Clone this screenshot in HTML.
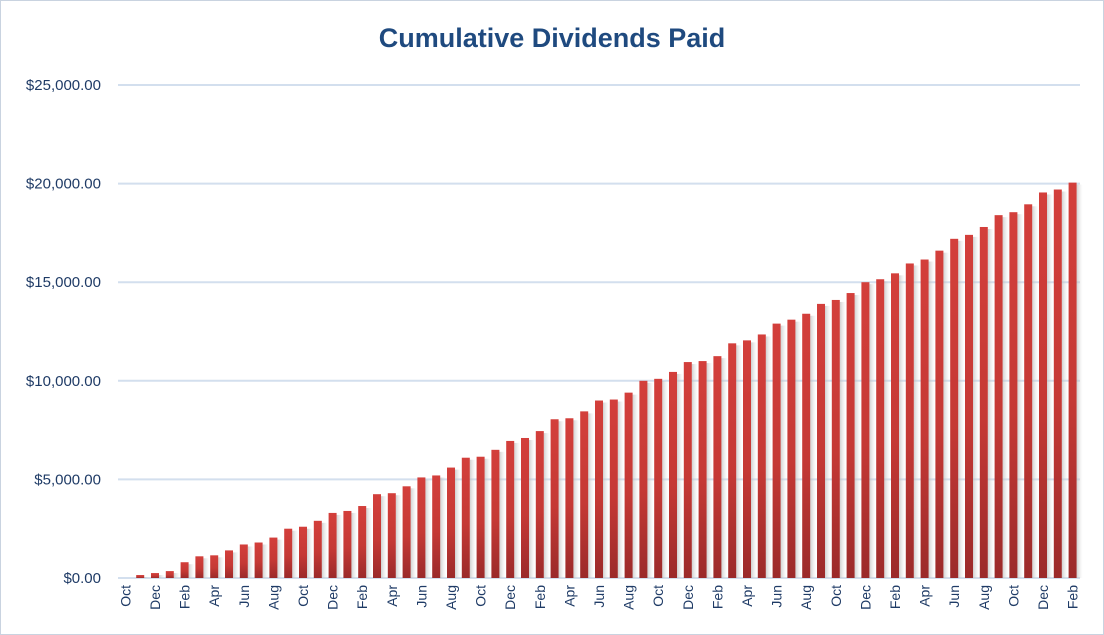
<!DOCTYPE html>
<html><head><meta charset="utf-8"><style>
body{margin:0;background:#fff;}
svg{display:block;font-family:"Liberation Sans",Calibri,sans-serif;}
</style></head><body>
<svg id="chart" width="1104" height="635" viewBox="0 0 1104 635" xmlns="http://www.w3.org/2000/svg">
<defs>
<linearGradient id="barGrad" x1="0" y1="0" x2="0" y2="1">
<stop offset="0" stop-color="#d33f3b"/><stop offset="0.55" stop-color="#c53935"/><stop offset="1" stop-color="#9b2a2a"/>
</linearGradient>
<linearGradient id="shadowGrad" x1="0" y1="0" x2="1" y2="0">
<stop offset="0" stop-color="#bbb" stop-opacity="0.7"/><stop offset="1" stop-color="#ddd" stop-opacity="0"/>
</linearGradient>
</defs>
<rect x="0.5" y="0.5" width="1103" height="634" fill="#fff" stroke="#c9d3e0"/>
<text x="552" y="47" text-anchor="middle" font-size="27" font-weight="bold" fill="#1f4a7f">Cumulative Dividends Paid</text>
<g id="grid"></g><g id="yticks"></g><g id="bars"></g><g id="xticks"></g>
</svg>
<script>
const months = ["Oct","Nov","Dec","Jan","Feb","Mar","Apr","May","Jun","Jul","Aug","Sep"];
const yTickValues = [0,5000,10000,15000,20000,25000];
const yTickLabels = ["$0.00","$5,000.00","$10,000.00","$15,000.00","$20,000.00","$25,000.00"];
const values = [0,150,250,350,800,1100,1150,1400,1700,1800,2050,2500,2600,2900,3300,3400,3650,4250,4300,4650,5100,5200,5600,6100,6150,6500,6950,7100,7450,8050,8100,8450,9000,9050,9400,10000,10100,10450,10950,11000,11250,11900,12050,12350,12900,13100,13400,13900,14100,14450,15000,15150,15450,15950,16150,16600,17200,17400,17800,18400,18550,18950,19550,19700,20050];
const categories = values.map((v,i)=>months[i%12]);
const NS="http://www.w3.org/2000/svg";
const X0=118,X1=1080,Y0=578,Y1=85,YMAX=25000;
const band=(X1-X0)/categories.length;
const xPos=i=>X0+band*i;
const yPos=v=>Y0-(v/YMAX)*(Y0-Y1);
function mk(tag,attrs,parent){const e=document.createElementNS(NS,tag);for(const k in attrs)e.setAttribute(k,attrs[k]);parent.appendChild(e);return e;}
const grid=document.getElementById('grid'),yt=document.getElementById('yticks'),bars=document.getElementById('bars'),xt=document.getElementById('xticks');
yTickValues.forEach((v,i)=>{
  const l=mk('line',{x1:X0,x2:X1,y1:yPos(v),y2:yPos(v),stroke:'#d3dfee','stroke-width':2},grid);
  
  
  const t=mk('text',{x:101,y:yPos(v)+5,'text-anchor':'end','font-size':15,fill:'#1f3b66'},yt);
  t.textContent=yTickLabels[i];
  
  
});
const bw=8;
values.forEach((v,i)=>{
  const cx=xPos(i)+band/2;
  const y=yPos(v),h=Y0-y;
  if(h<=0)return;
  const s=mk('rect',{x:cx+bw/2,y:y+2,width:6,height:h-2,fill:'url(#shadowGrad)'},bars);
  
  
  const r=mk('rect',{x:cx-bw/2,y:y,width:bw,height:h,fill:'url(#barGrad)'},bars);
  
  
});
categories.forEach((c,i)=>{
  if(i%2)return;
  const cx=xPos(i)+band/2;
  const t=mk('text',{x:0,y:0,'text-anchor':'end','font-size':14,fill:'#1f3b66',transform:`translate(${cx+5},585) rotate(-90)`},xt);
  t.textContent=c;
  
  
});
</script>
</body></html>
